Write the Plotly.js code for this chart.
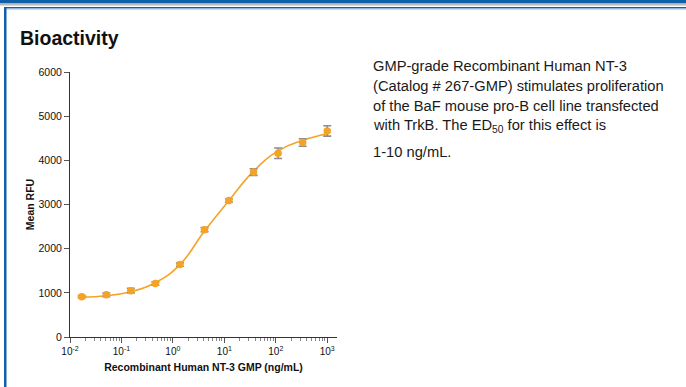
<!DOCTYPE html>
<html>
<head>
<meta charset="utf-8">
<script src="https://cdn.plot.ly/plotly-3.0.1.min.js"></script>
<style>
html,body{margin:0;padding:0;background:#fff;}
#chart{width:686px;height:387px;}
</style>
</head>
<body>
<div id="chart"></div>
<script>
// Concentrations (ng/mL), 3-fold dilutions
const concentration = [0.0169, 0.0508, 0.152, 0.457, 1.37, 4.12, 12.3, 37.0, 111, 333, 1000];
// Mean RFU and error
const meanRFU = [914, 955, 1050, 1210, 1640, 2430, 3088, 3735, 4160, 4405, 4665];
const errorRFU = [22, 40, 52, 38, 38, 46, 38, 76, 118, 85, 118];
// Fitted curve values read at the same concentrations
const fitRFU = [905, 935, 1025, 1230, 1640, 2400, 3090, 3755, 4215, 4450, 4600];
// Axis ticks
const xTicks = [0.01, 0.1, 1, 10, 100, 1000];
const xTickLabels = ['10<sup>-2</sup>', '10<sup>-1</sup>', '10<sup>0</sup>', '10<sup>1</sup>', '10<sup>2</sup>', '10<sup>3</sup>'];
const yTicks = [0, 1000, 2000, 3000, 4000, 5000, 6000];
const yTickLabels = ['0', '1000', '2000', '3000', '4000', '5000', '6000'];
const descriptionLines = [
  'GMP-grade Recombinant Human NT-3',
  '(Catalog # 267-GMP) stimulates proliferation',
  'of the BaF mouse pro-B cell line transfected',
  'with TrkB. The ED<sub>50</sub> for this effect is',
  '1-10 ng/mL.'
];

// plot area in pixels
const PL = 70, PR = 337, PT = 72, PB = 337;
const px = x => (x - PL) / (PR - PL);
const py = y => (PB - y) / (PB - PT);

const orange = '#F5A327';
const blue = '#0E60A8';

const traces = [
  {
    x: concentration, y: fitRFU, type: 'scatter', mode: 'lines',
    line: {color: orange, width: 1.6, shape: 'spline', smoothing: 1.3},
    hoverinfo: 'skip', showlegend: false
  },
  {
    x: concentration, y: meanRFU, type: 'scatter', mode: 'markers',
    marker: {color: orange, size: 7.5},
    error_y: {type: 'data', array: errorRFU, visible: true, color: '#8c8c8c', thickness: 1.6, width: 4},
    showlegend: false
  }
];

const lineY = [66, 86, 106, 126, 152];
const annotations = descriptionLines.map((t, i) => ({
  text: t, xref: 'paper', yref: 'paper', x: px(371), y: py(lineY[i]),
  xanchor: 'left', yanchor: 'middle', showarrow: false, align: 'left',
  font: {family: 'Liberation Sans, Arial, sans-serif', size: 14.7, color: '#1a1a1a'}
}));
annotations.push({
  text: '<b>Bioactivity</b>', xref: 'paper', yref: 'paper', x: px(18), y: py(38),
  xanchor: 'left', yanchor: 'middle', showarrow: false,
  font: {family: 'Liberation Sans, Arial, sans-serif', size: 19.5, color: '#111'}
});

const shapes = [
  {type: 'rect', xref: 'paper', yref: 'paper', x0: px(0), x1: px(686), y0: py(0), y1: py(3.5), fillcolor: blue, line: {width: 0}},
  {type: 'rect', xref: 'paper', yref: 'paper', x0: px(0), x1: px(686), y0: py(3.5), y1: py(5.5), fillcolor: '#b8b8b8', line: {width: 0}},
  {type: 'rect', xref: 'paper', yref: 'paper', x0: px(4), x1: px(686), y0: py(7), y1: py(8.5), fillcolor: blue, line: {width: 0}},
  {type: 'rect', xref: 'paper', yref: 'paper', x0: px(6), x1: px(686), y0: py(8.5), y1: py(9.5), fillcolor: '#8fbbe6', line: {width: 0}},
  {type: 'rect', xref: 'paper', yref: 'paper', x0: px(4), x1: px(6.5), y0: py(7), y1: py(387), fillcolor: blue, line: {width: 0}}
];

const layout = {
  width: 686, height: 387,
  margin: {l: PL, r: 686 - PR, t: PT, b: 387 - PB, pad: 0},
  paper_bgcolor: '#fff', plot_bgcolor: '#fff',
  font: {family: 'Liberation Sans, Arial, sans-serif', color: '#222'},
  xaxis: {
    type: 'log', range: [-2, 3.19], tickvals: xTicks, ticktext: xTickLabels,
    showgrid: false, zeroline: false, showline: true, linecolor: '#333', linewidth: 1,
    ticks: 'outside', ticklen: 5, tickcolor: '#555', tickwidth: 1,
    minor: {ticks: 'outside', ticklen: 3, tickcolor: '#888', dtick: 'D1', showgrid: false},
    tickfont: {size: 10, color: '#111'},
    title: {text: '<b>Recombinant Human NT-3 GMP (ng/mL)</b>', font: {family: 'Liberation Sans, Arial, sans-serif', size: 10.5, color: '#111'}, standoff: 7}
  },
  yaxis: {
    range: [0, 6000], tickvals: yTicks, ticktext: yTickLabels,
    showgrid: false, zeroline: false, showline: true, linecolor: '#333', linewidth: 1,
    ticks: 'outside', ticklen: 5, tickcolor: '#555', tickwidth: 1,
    tickfont: {size: 10.5, color: '#111'},
    title: {text: '<b>Mean RFU</b>', font: {family: 'Liberation Sans, Arial, sans-serif', size: 10.5, color: '#111'}, standoff: 1}
  },
  annotations: annotations,
  shapes: shapes
};

Plotly.newPlot('chart', traces, layout, {displayModeBar: false, staticPlot: true});
</script>
</body>
</html>
